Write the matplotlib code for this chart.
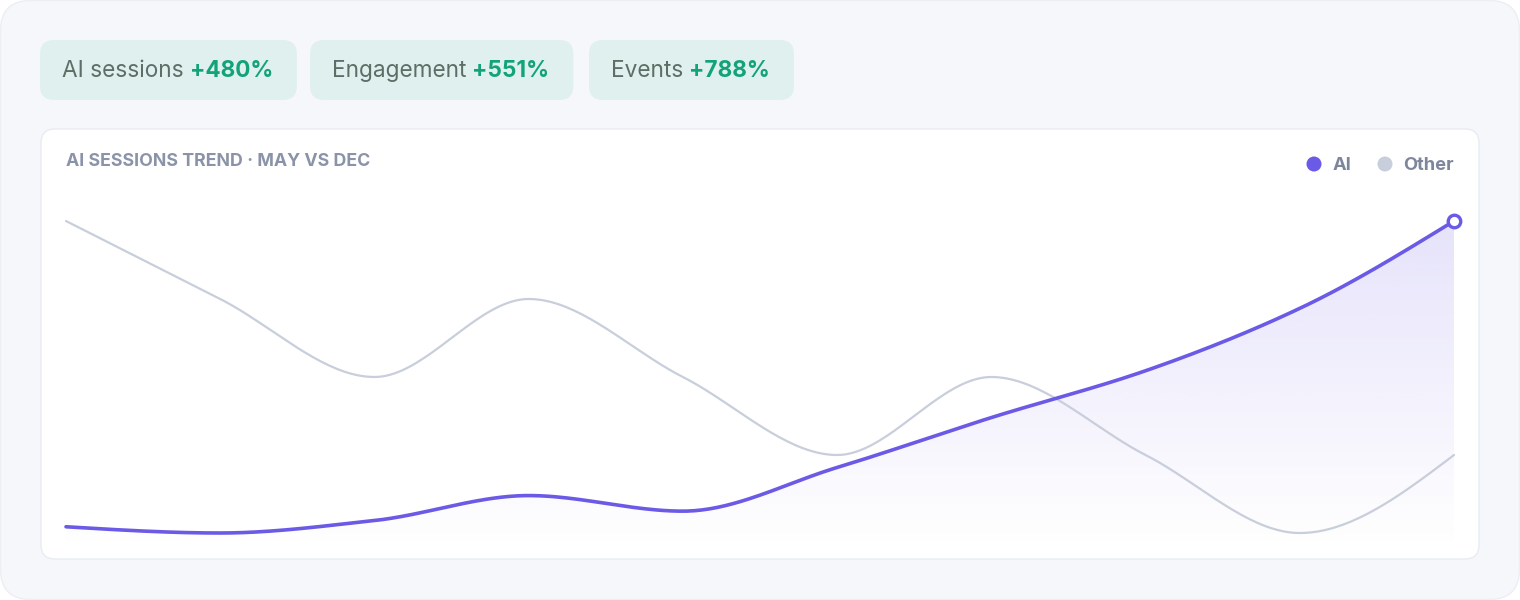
import numpy as np
import matplotlib
matplotlib.use("Agg")
import matplotlib.pyplot as plt
from matplotlib.patches import FancyBboxPatch, Circle, PathPatch
from matplotlib.path import Path

# --- data ---
months = ["May", "Jun", "Jul", "Aug", "Sep", "Oct", "Nov", "Dec", "Jan", "Feb"]
aiSessions = [2, 0, 4, 12, 7, 21, 37, 52, 72, 100]
otherSessions = [100, 75, 50, 75, 50, 25, 50, 25, 0, 25]
pillLabels = ["AI sessions", "Engagement", "Events"]
pillValues = ["+480%", "+551%", "+788%"]
chartTitle = "AI SESSIONS TREND · MAY VS DEC"

W, H = 1520, 600
PURPLE = "#6b5ae6"
GREY_LINE = "#c8cedb"
FONT = ["Inter", "DejaVu Sans"]

plt.rcParams['font.family'] = FONT


def px(x, y):
    # pixel (desde arriba-izquierda) -> fraccion de figura
    return x / W, 1 - y / H


def caja(fig, x0, y0, x1, y1, r, fc, ec=None, lw=0, z=-5):
    p = FancyBboxPatch((x0, H - y1), x1 - x0, y1 - y0,
                       boxstyle="round,pad=0,rounding_size=%d" % r,
                       transform=None, fc=fc, ec=ec if ec else fc, lw=lw, zorder=z)
    fig.patches.append(p)
    return p


def monotona(xs, ys, n=40):
    # curva monotona tipo d3 curveMonotoneX
    xs = np.asarray(xs, float)
    ys = np.asarray(ys, float)
    h = np.diff(xs)
    d = np.diff(ys) / h
    m = np.zeros(len(xs))
    for i in range(1, len(xs) - 1):
        if d[i - 1] * d[i] <= 0:
            m[i] = 0
        else:
            m[i] = 3 * (h[i - 1] + h[i]) / ((2 * h[i] + h[i - 1]) / d[i - 1] + (h[i] + 2 * h[i - 1]) / d[i])
    m[0] = (3 * d[0] - m[1]) / 2
    m[-1] = (3 * d[-1] - m[-2]) / 2
    outx, outy = [], []
    for i in range(len(xs) - 1):
        t = np.linspace(0, 1, n, endpoint=(i == len(xs) - 2))
        h00 = 2 * t**3 - 3 * t**2 + 1
        h10 = t**3 - 2 * t**2 + t
        h01 = -2 * t**3 + 3 * t**2
        h11 = t**3 - t**2
        outx.append(xs[i] + t * h[i])
        outy.append(h00 * ys[i] + h10 * h[i] * m[i] + h01 * ys[i + 1] + h11 * h[i] * m[i + 1])
    return np.concatenate(outx), np.concatenate(outy)


fig = plt.figure(figsize=(W / 100, H / 100), dpi=100)
fig.patch.set_facecolor("white")

# fondo y panel
caja(fig, 0.5, 0.5, 1519.5, 599.5, 30, "#f6f7fb", "#eceef4", 1, z=-10)
caja(fig, 41, 129, 1479, 559, 14, "white", "#e8ebf1", 1, z=-9)

# pastillas
pillX = [40, 310, 589]
renderer = fig.canvas.get_renderer()
for i in range(len(pillLabels)):
    x0 = pillX[i]
    t1 = fig.text(*px(x0 + 22, 71), pillLabels[i], fontsize=16.3, color="#5d6e66",
                  va="center", ha="left")
    bb = t1.get_window_extent(renderer)
    t2 = fig.text((bb.x1 + 6) / W, 1 - 71 / H, pillValues[i], fontsize=16.3, color="#12a37a",
                  fontweight="bold", va="center", ha="left")
    bb2 = t2.get_window_extent(renderer)
    caja(fig, x0, 40, bb2.x1 + 24, 100, 14, "#e0f0ee", z=-8)

fig.text(*px(66, 162), chartTitle, fontsize=12.8, color="#8a93a8", fontweight="bold",
         va="center", ha="left")

# leyenda
fig.patches.append(Circle((1314, H - 164), 7.5, transform=None, fc=PURPLE, ec="none"))
fig.text(*px(1333, 165), "AI", fontsize=13.2, color="#7d869b", fontweight="bold", va="center")
fig.patches.append(Circle((1385, H - 164), 7.5, transform=None, fc=GREY_LINE, ec="none"))
fig.text(*px(1403, 165), "Other", fontsize=13.2, color="#7d869b", fontweight="bold", va="center")

# ejes: 0 -> y=533 px, 100 -> y=221 px
top_px, bot_px = 190, 550
unit = 100 / (533 - 221)
ax = fig.add_axes([66 / W, 1 - bot_px / H, (1454 - 66) / W, (bot_px - top_px) / H])
ax.set_zorder(1)
ax.axis("off")
ax.patch.set_alpha(0)
ylims = (-(bot_px - 533) * unit, 100 + (221 - top_px) * unit)

xs = np.arange(len(months))
ox, oy = monotona(xs, otherSessions)
axx, ayy = monotona(xs, aiSessions)

ybot = ylims[0]
# degradado bajo la linea AI
verts = np.vstack([np.column_stack([axx, ayy]), [[axx[-1], ybot], [axx[0], ybot]]])
clip = PathPatch(Path(verts), transform=ax.transData, fc="none", ec="none")
ax.add_patch(clip)
grad = np.zeros((256, 1, 4))
rgb = matplotlib.colors.to_rgb(PURPLE)
grad[:, 0, :3] = rgb
grad[:, 0, 3] = np.linspace(0.17, 0.0, 256)
img = ax.imshow(grad, extent=[0, len(months) - 1, ybot, 100], aspect="auto",
                origin="upper", zorder=1, interpolation="bilinear")
img.set_clip_path(clip)

ax.plot(ox, oy, color=GREY_LINE, lw=1.6, zorder=2, clip_on=False, solid_capstyle="round")
ax.plot(axx, ayy, color=PURPLE, lw=2.6, zorder=3, clip_on=False, solid_capstyle="round")
ax.plot([xs[-1]], [aiSessions[-1]], "o", ms=9, mfc="white", mec=PURPLE, mew=2.4,
        zorder=4, clip_on=False)
ax.set_xlim(0, len(months) - 1)
ax.set_ylim(*ylims)

fig.savefig("out.png", dpi=100, facecolor=fig.get_facecolor())
